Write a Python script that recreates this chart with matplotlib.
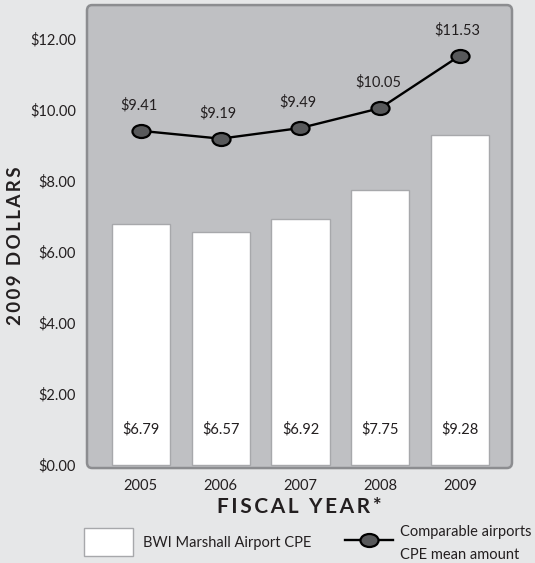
import matplotlib.pyplot as plt
import numpy as np
from matplotlib.patches import FancyBboxPatch, Rectangle
from matplotlib.lines import Line2D
from matplotlib.path import Path
from matplotlib.transforms import Affine2D

years = ["2005", "2006", "2007", "2008", "2009"]
bwi_cpe = [6.79, 6.57, 6.92, 7.75, 9.28]
comparable_cpe = [9.41, 9.19, 9.49, 10.05, 11.53]
yticks = [0, 2, 4, 6, 8, 10, 12]

plt.rcParams["font.family"] = ["Lato", "DejaVu Sans"]
BG = "#e6e7e8"
PLOT_BG = "#bfc0c3"
TEXT = "#231f20"
W, H = 535, 563

fig = plt.figure(figsize=(5.35, 5.63), dpi=100, facecolor=BG)
ax = fig.add_axes([0.1626, 0.1687, 0.7944, 0.8223])
ax.set_facecolor("none")
for s in ax.spines.values():
    s.set_visible(False)

# rounded gray plot area
frame = FancyBboxPatch((0, 0), 1, 1, boxstyle="round,pad=0,rounding_size=0.012",
                       transform=ax.transAxes, facecolor=PLOT_BG, edgecolor="#8c8d90",
                       linewidth=1.8, zorder=0, clip_on=False)
ax.add_patch(frame)

x = np.arange(len(years))
ax.bar(x, bwi_cpe, width=0.73, color="white", edgecolor="#a7a8ab", linewidth=1.0, zorder=2)
for xi, v in zip(x, bwi_cpe):
    ax.text(xi, 1.0, f"${v:.2f}", ha="center", va="center", fontsize=10.5, color=TEXT, zorder=3)

# ellipse marker
ell = Path.unit_circle().transformed(Affine2D().scale(1.0, 0.72))
line_style = dict(color="black", linewidth=1.7, marker=ell, markersize=13,
                  markerfacecolor="#58595b", markeredgecolor="black", markeredgewidth=1.6)
ax.plot(x, comparable_cpe, zorder=4, **line_style)
for xi, v in zip(x, comparable_cpe):
    ax.text(xi - 0.03, v + 0.72, f"${v:.2f}", ha="center", va="center", fontsize=10.5,
            color=TEXT, zorder=5)

ax.set_xlim(-0.675, 4.65)
ax.set_ylim(-0.08, 12.95)
ax.set_xticks(x)
ax.set_xticklabels(years)
ax.set_yticks(yticks)
ax.set_yticklabels([f"${t:.2f}" for t in yticks])
ax.tick_params(length=0, labelsize=10.5, colors=TEXT, pad=8)

sp = "\u2009"
fig.text(16 / W, 1 - 246 / H, sp.join("2009 DOLLARS"), rotation=90, ha="center", va="center",
         fontsize=13.5, fontweight="bold", color=TEXT)
ax.set_xlabel(sp.join("FISCAL YEAR*"), fontsize=15, fontweight="bold", color=TEXT, labelpad=3)

# legend, drawn in figure pixels
fig.add_artist(Rectangle((84 / W, 1 - 556 / H), 49 / W, 28 / H, transform=fig.transFigure,
                         facecolor="white", edgecolor="#a7a8ab", linewidth=1.0))
fig.text(143 / W, 1 - 543 / H, "BWI Marshall Airport CPE", ha="left", va="center",
         fontsize=10.5, color=TEXT)
fig.add_artist(Line2D([345 / W, 393 / W], [1 - 540 / H, 1 - 540 / H], transform=fig.transFigure,
                      markevery=[], **line_style))
fig.add_artist(Line2D([369 / W], [1 - 540 / H], transform=fig.transFigure, **line_style))
fig.text(400 / W, 1 - 532 / H, "Comparable airports", ha="left", va="center",
         fontsize=10.5, color=TEXT)
fig.text(400 / W, 1 - 555 / H, "CPE mean amount", ha="left", va="center",
         fontsize=10.5, color=TEXT)

fig.savefig("out.png", dpi=100, facecolor=BG)
